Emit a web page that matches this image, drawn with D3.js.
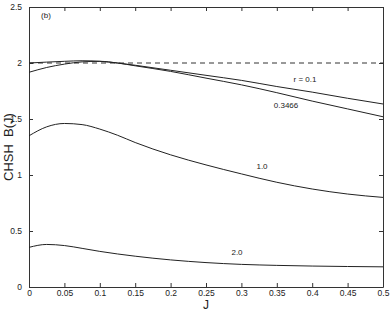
<!DOCTYPE html>
<html>
<head>
<meta charset="utf-8">
<script src="https://cdn.jsdelivr.net/npm/d3@7"></script>
<style>
  body { margin: 0; background: #fff; }
  text { font-family: "Liberation Sans", Arial, sans-serif; fill: #222; }
</style>
</head>
<body>
<svg id="chart" width="392" height="313"></svg>
<script>
// values
var J = [0, 0.025, 0.05, 0.075, 0.1, 0.125, 0.15, 0.2, 0.25, 0.3, 0.35, 0.4, 0.45, 0.5];
var r01 = [2.00, 2.008, 2.015, 2.02, 2.015, 2.0, 1.98, 1.935, 1.89, 1.845, 1.79, 1.74, 1.685, 1.634];
var r03466 = [1.917, 1.96, 1.99, 2.01, 2.015, 2.0, 1.975, 1.925, 1.865, 1.805, 1.735, 1.66, 1.59, 1.52];
var r10 = [1.35, 1.43, 1.46, 1.45, 1.41, 1.355, 1.29, 1.18, 1.09, 1.01, 0.935, 0.875, 0.83, 0.80];
var r20 = [0.354, 0.38, 0.37, 0.345, 0.318, 0.295, 0.275, 0.242, 0.218, 0.202, 0.193, 0.187, 0.183, 0.18];
var xTicks = [0, 0.05, 0.1, 0.15, 0.2, 0.25, 0.3, 0.35, 0.4, 0.45, 0.5];
var yTicks = [0, 0.5, 1, 1.5, 2, 2.5];
var curves = [
  {name: "r = 0.1", vals: r01, lx: 305, ly: 82},
  {name: "0.3466", vals: r03466, lx: 286, ly: 108},
  {name: "1.0", vals: r10, lx: 262, ly: 169},
  {name: "2.0", vals: r20, lx: 237, ly: 255}
];

// plot box (named so they don't clash with window.top)
var pLeft = 29, pRight = 383, pTop = 7, pBottom = 287;
var svg = d3.select("#chart");
var x = d3.scaleLinear().domain([0, 0.5]).range([pLeft, pRight]);
var y = d3.scaleLinear().domain([0, 2.5]).range([pBottom, pTop]);

// axes, ticks pointing inward on all four sides
var fmt = d => d3.format("")(d);
svg.append("g").attr("transform", `translate(0,${pBottom})`)
  .call(d3.axisBottom(x).tickValues(xTicks).tickSizeInner(-4).tickSizeOuter(0).tickPadding(3).tickFormat(fmt));
svg.append("g").attr("transform", `translate(0,${pTop})`)
  .call(d3.axisTop(x).tickValues(xTicks).tickSizeInner(-4).tickSizeOuter(0).tickFormat(""));
svg.append("g").attr("transform", `translate(${pLeft},0)`)
  .call(d3.axisLeft(y).tickValues(yTicks).tickSizeInner(-4).tickSizeOuter(0).tickPadding(7).tickFormat(fmt));
svg.append("g").attr("transform", `translate(${pRight},0)`)
  .call(d3.axisRight(y).tickValues(yTicks).tickSizeInner(-4).tickSizeOuter(0).tickFormat(""));
svg.selectAll(".domain").attr("stroke", "#333");
svg.selectAll(".tick line").attr("stroke", "#333");
svg.selectAll(".tick text").attr("font-size", 8.5).attr("fill", "#222")
  .style("font-family", "'Liberation Sans', Arial, sans-serif");

// dashed reference at 2
svg.append("line")
  .attr("x1", x(0)).attr("x2", x(0.5)).attr("y1", y(2)).attr("y2", y(2))
  .attr("stroke", "#333").attr("stroke-width", 1).attr("stroke-dasharray", "5,4");

var line = d3.line().x((d, i) => x(J[i])).y(d => y(d)).curve(d3.curveMonotoneX);
svg.selectAll(".curve").data(curves).enter().append("path")
  .attr("class", "curve")
  .attr("d", d => line(d.vals))
  .attr("fill", "none").attr("stroke", "#222").attr("stroke-width", 1);

svg.selectAll(".lbl").data(curves).enter().append("text")
  .attr("class", "lbl")
  .attr("x", d => d.lx).attr("y", d => d.ly)
  .attr("text-anchor", "middle").attr("font-size", 8)
  .text(d => d.name);

svg.append("text").attr("x", 46).attr("y", 18).attr("text-anchor", "middle")
  .attr("font-size", 8).text("(b)");

svg.append("text").attr("x", x(0.25)).attr("y", 309).attr("text-anchor", "middle")
  .attr("font-size", 12).text("J");
svg.append("text").attr("transform", `translate(13,${(pTop + pBottom) / 2}) rotate(-90)`)
  .attr("text-anchor", "middle").attr("font-size", 13).text("CHSH\u00a0\u00a0B(J)");
</script>
</body>
</html>
